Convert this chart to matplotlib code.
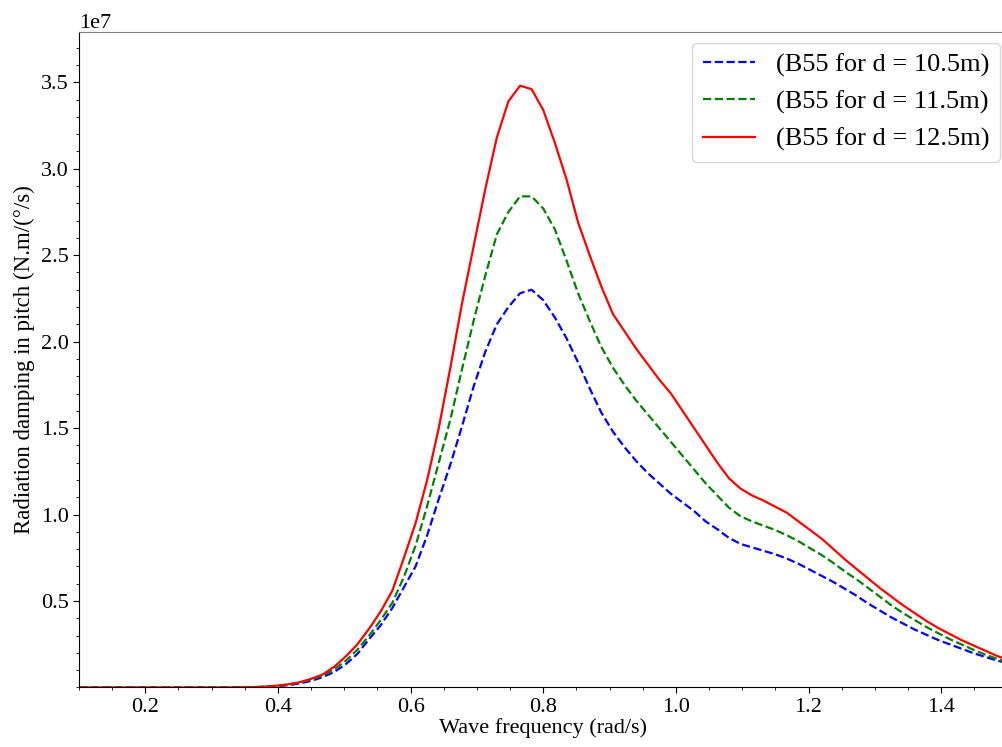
import matplotlib
matplotlib.use("Agg")
import matplotlib.pyplot as plt
from matplotlib.ticker import MultipleLocator

plt.rcParams['font.family'] = ['Liberation Serif', 'DejaVu Serif']

freq = [0.1000, 0.1175, 0.1350, 0.1525, 0.1700, 0.1875, 0.2050, 0.2225, 0.2400, 0.2575,
        0.2750, 0.2925, 0.3100, 0.3275, 0.3450, 0.3625, 0.3800, 0.3975, 0.4150, 0.4325,
        0.4500, 0.4675, 0.4850, 0.5025, 0.5200, 0.5375, 0.5550, 0.5725, 0.5900, 0.6075,
        0.6250, 0.6425, 0.6600, 0.6775, 0.6950, 0.7125, 0.7300, 0.7475, 0.7650, 0.7825,
        0.8000, 0.8175, 0.8350, 0.8525, 0.8700, 0.8875, 0.9050, 0.9225, 0.9400, 0.9575,
        0.9750, 0.9925, 1.0100, 1.0275, 1.0450, 1.0625, 1.0800, 1.0975, 1.1150, 1.1325,
        1.1500, 1.1675, 1.1850, 1.2025, 1.2200, 1.2375, 1.2550, 1.2725, 1.2900, 1.3075,
        1.3250, 1.3425, 1.3600, 1.3775, 1.3950, 1.4125, 1.4300, 1.4475, 1.4650, 1.4825,
        1.5000]

# values in units of 1e7
b55_d105 = [0, 0, 0, 0, 0, 0, 0, 0, 0, 0,
            0, 0, 0, 0, 0, 0, 0.003, 0.007, 0.013, 0.023,
            0.038, 0.06, 0.09, 0.135, 0.195, 0.28, 0.36, 0.46, 0.58, 0.70,
            0.88, 1.09, 1.29, 1.51, 1.74, 1.94, 2.10, 2.20, 2.28, 2.30,
            2.24, 2.14, 2.02, 1.88, 1.73, 1.59, 1.48, 1.39, 1.31, 1.24,
            1.18, 1.12, 1.07, 1.02, 0.96, 0.915, 0.865, 0.83, 0.81, 0.79,
            0.77, 0.745, 0.715, 0.68, 0.645, 0.61, 0.57, 0.53, 0.485, 0.445,
            0.405, 0.37, 0.335, 0.305, 0.275, 0.25, 0.225, 0.20, 0.178, 0.158,
            0.14]

b55_d115 = [0, 0, 0, 0, 0, 0, 0, 0, 0, 0,
            0, 0, 0, 0, 0, 0.002, 0.004, 0.009, 0.016, 0.027,
            0.045, 0.07, 0.105, 0.155, 0.22, 0.30, 0.39, 0.49, 0.64, 0.82,
            1.05, 1.30, 1.55, 1.84, 2.12, 2.38, 2.62, 2.75, 2.84, 2.84,
            2.77, 2.65, 2.47, 2.28, 2.12, 1.97, 1.85, 1.75, 1.66, 1.58,
            1.50, 1.42, 1.34, 1.26, 1.18, 1.11, 1.04, 0.99, 0.96, 0.935,
            0.91, 0.88, 0.845, 0.805, 0.765, 0.72, 0.67, 0.625, 0.575, 0.525,
            0.475, 0.43, 0.39, 0.35, 0.315, 0.28, 0.25, 0.22, 0.192, 0.168,
            0.145]

b55_d125 = [0, 0, 0, 0, 0, 0, 0, 0, 0, 0,
            0, 0, 0, 0, 0.001, 0.002, 0.005, 0.01, 0.018, 0.03,
            0.05, 0.075, 0.12, 0.18, 0.25, 0.34, 0.44, 0.56, 0.75, 0.95,
            1.20, 1.50, 1.85, 2.22, 2.55, 2.88, 3.18, 3.39, 3.48, 3.46,
            3.34, 3.15, 2.94, 2.69, 2.50, 2.32, 2.16, 2.06, 1.96, 1.87,
            1.78, 1.70, 1.60, 1.50, 1.40, 1.30, 1.21, 1.15, 1.11, 1.08,
            1.045, 1.01, 0.96, 0.91, 0.86, 0.80, 0.74, 0.685, 0.63, 0.575,
            0.525, 0.475, 0.43, 0.385, 0.345, 0.31, 0.275, 0.245, 0.215, 0.185,
            0.16]

labels = ['(B55 for d = 10.5m)', '(B55 for d = 11.5m)', '(B55 for d = 12.5m)']

scale = 1e7
fig = plt.figure(figsize=(10.02, 7.47), dpi=100)
ax = fig.add_axes([0.0788, 0.0797, 0.9267, 0.8773])

ax.plot(freq, [v * scale for v in b55_d105], color='blue', linestyle='--', lw=1.6, label=labels[0])
ax.plot(freq, [v * scale for v in b55_d115], color='green', linestyle='--', lw=1.6, label=labels[1])
ax.plot(freq, [v * scale for v in b55_d125], color='red', linestyle='-', lw=1.6, label=labels[2])

ax.set_xlim(0.1, 1.5)
ax.set_ylim(0, 3.79e7)
ax.xaxis.set_major_locator(MultipleLocator(0.2))
ax.xaxis.set_minor_locator(MultipleLocator(0.05))
ax.yaxis.set_minor_locator(MultipleLocator(0.1e7))
ax.set_yticks([0.5e7, 1.0e7, 1.5e7, 2.0e7, 2.5e7, 3.0e7, 3.5e7])
ax.tick_params(axis='both', which='major', labelsize=16, length=4)
ax.tick_params(axis='both', which='minor', length=2.5)
ax.yaxis.get_offset_text().set_fontsize(16)

ax.spines['top'].set_color('0.5')
ax.spines['right'].set_visible(False)

ax.set_xlabel('Wave frequency (rad/s)', fontsize=16, labelpad=1)
ax.set_ylabel('Radiation damping in pitch (N.m/(°/s)', fontsize=16.5, labelpad=4)

ax.legend(loc='upper right', bbox_to_anchor=(0.9985, 0.943), bbox_transform=fig.transFigure,
          fontsize=19, frameon=True, fancybox=True, borderaxespad=0, handlelength=2.0)

fig.savefig('out.png', dpi=100)
